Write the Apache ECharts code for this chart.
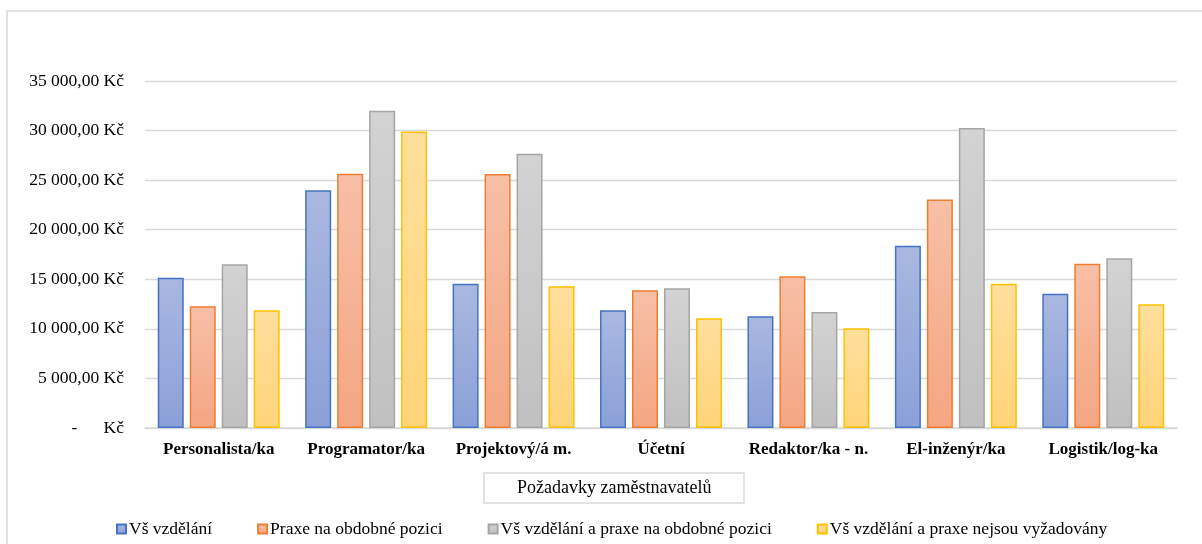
<!DOCTYPE html>
<html>
<head>
<meta charset="utf-8">
<script src="https://cdn.jsdelivr.net/npm/echarts@6/dist/echarts.min.js"></script>
<style>
html,body{margin:0;padding:0;background:#fff;}
#c{width:1202px;height:544px;}
</style>
</head>
<body>
<div id="c"></div>
<script>
const categories = ['Personalista/ka','Programator/ka','Projektový/á m.','Účetní','Redaktor/ka - n.','El-inženýr/ka','Logistik/log-ka'];
const seriesNames = ['Vš vzdělání','Praxe na obdobné pozici','Vš vzdělání a praxe na obdobné pozici','Vš vzdělání a praxe nejsou vyžadovány'];
const vsVzdelani = [15150, 23990, 14540, 11870, 11270, 18380, 13530];
const praxe = [12280, 25650, 25610, 13890, 15310, 23050, 16560];
const vsAPraxe = [16520, 32000, 27660, 14100, 11710, 30250, 17130];
const nevyzadovano = [11870, 29900, 14300, 11070, 10060, 14540, 12480];
const axisTitle = 'Požadavky zaměstnavatelů';

const FONT = "'Liberation Serif', 'Times New Roman', serif";
const styles = [
  {top:'#aab8e0', bottom:'#8ba0d8', border:'#4472c4'},
  {top:'#f7bfa6', bottom:'#f4a682', border:'#ed7d31'},
  {top:'#d3d3d3', bottom:'#c0c0c0', border:'#a5a5a5'},
  {top:'#ffdf9d', bottom:'#ffd479', border:'#ffc000'}
];
const values = [vsVzdelani, praxe, vsAPraxe, nevyzadovano];

function fmt(v){
  if (v === 0) return '-      Kč';
  const s = Math.round(v).toString().replace(/\B(?=(\d{3})+(?!\d))/g, '\u00a0');
  return s + ',00 Kč';
}

const chart = echarts.init(document.getElementById('c'));
chart.setOption({
  backgroundColor: '#fff',
  animation: false,
  textStyle: {fontFamily: FONT},
  title: {
    text: axisTitle,
    left: 484, top: 473,
    padding: [5, 33, 5, 33],
    borderColor: '#d9d9d9', borderWidth: 1.5,
    textStyle: {fontFamily: FONT, fontSize: 18, fontWeight: 'normal', color: '#000', lineHeight: 20}
  },
  legend: {
    left: 111, top: 515,
    icon: 'rect',
    itemWidth: 9, itemHeight: 9, itemGap: 45,
    textStyle: {fontFamily: FONT, fontSize: 17.5, color: '#000', padding: [0,0,0,-2]},
    data: seriesNames
  },
  grid: {left: 145, right: 25, top: 81, bottom: 116},
  xAxis: {
    type: 'category',
    data: categories,
    axisLine: {lineStyle: {color: '#d9d9d9', width: 1.5}},
    axisTick: {show: false},
    axisLabel: {interval: 0, hideOverlap: false, fontFamily: FONT, fontSize: 17, fontWeight: 'bold', color: '#000', margin: 13}
  },
  yAxis: {
    type: 'value',
    min: 0, max: 35000, interval: 5000,
    axisLine: {show: false},
    axisTick: {show: false},
    splitLine: {lineStyle: {color: '#d9d9d9', width: 1.3}},
    axisLabel: {fontFamily: FONT, fontSize: 17.5, color: '#000', margin: 21, formatter: fmt}
  },
  graphic: [{
    type: 'rect', silent: true, z: -10,
    shape: {x: 7, y: 11, width: 1230, height: 600},
    style: {fill: 'none', stroke: '#d9d9d9', lineWidth: 1.5}
  }],
  series: values.map((arr, i) => ({
    name: seriesNames[i],
    type: 'bar',
    data: arr,
    barWidth: 26,
    barGap: '23%',
    itemStyle: {
      color: new echarts.graphic.LinearGradient(0, 0, 0, 1, [
        {offset: 0, color: styles[i].top},
        {offset: 1, color: styles[i].bottom}
      ]),
      borderColor: styles[i].border,
      borderWidth: 1.5
    }
  }))
});
</script>
</body>
</html>
